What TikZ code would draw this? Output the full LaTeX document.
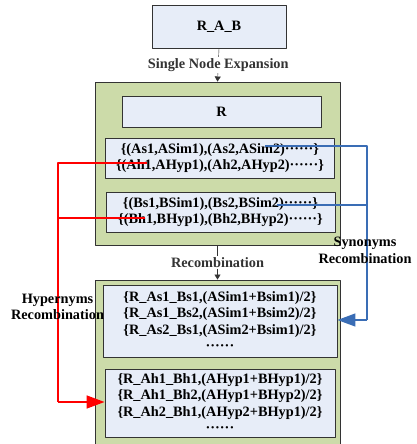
\documentclass[tikz,border=0pt]{standalone}
\usepackage{fontspec}
\setmainfont{Liberation Serif}
\usetikzlibrary{arrows.meta,calc}
\definecolor{boxblue}{HTML}{E7EDF8}
\definecolor{boxgreen}{HTML}{CCDBA9}
\definecolor{synblue}{HTML}{3A6DB5}
\tikzset{
	inbox/.style={draw=black!80, fill=boxblue, line width=0.9pt, align=center, inner sep=0pt},
	outbox/.style={draw=black!80, fill=boxgreen, line width=0.9pt, inner sep=0pt},
	steplabel/.style={fill=white, inner sep=1pt},
	bigtip/.style={-{Triangle[length=18pt,width=13pt]}},
}
\begin{document}
\begin{tikzpicture}[x=1pt,y=-1pt,line join=round,>={Triangle[length=5pt,width=6pt]},
		font=\fontsize{14.3}{16.5}\selectfont\bfseries]
	\useasboundingbox (0,0) rectangle (417,444);
	\fill[white] (0,0) rectangle (417,444);
	% outer green boxes
	\node[outbox, minimum width=245, minimum height=163] (G1) at (217.5,163.5) {};
	\node[outbox, minimum width=245, minimum height=166] (G2) at (217.5,363) {};
	% inner boxes
	\node[inbox, minimum width=134, minimum height=43] (RAB) at (219,26.5) {R\_A\_B};
	\node[inbox, minimum width=199, minimum height=31] (R) at (221.5,111.5) {R};
	\node[inbox, minimum width=229, minimum height=40] (A) at (220,158)
		{\{(As1,ASim1),(As2,ASim2)······\}\\\{(Ah1,AHyp1),(Ah2,AHyp2)······\}};
	\node[inbox, minimum width=229, minimum height=40] (B) at (220.5,212)
		{\{(Bs1,BSim1),(Bs2,BSim2)······\}\\\{(Bh1,BHyp1),(Bh2,BHyp2)······\}};
	\node[inbox, minimum width=234, minimum height=72] (C) at (220,321)
		{\{R\_As1\_Bs1,(ASim1+Bsim1)/2\}\\\{R\_As1\_Bs2,(ASim1+Bsim2)/2\}\\
		 \{R\_As2\_Bs1,(ASim2+Bsim1)/2\}\\······};
	\node[inbox, minimum width=230, minimum height=68] (D) at (220,403)
		{\{R\_Ah1\_Bh1,(AHyp1+BHyp1)/2\}\\\{R\_Ah1\_Bh2,(AHyp1+BHyp2)/2\}\\
		 \{R\_Ah2\_Bh1,(AHyp2+BHyp1)/2\}\\······};
	% steps
	\draw[black!80, ->] (RAB.south) -- node[steplabel]{Single Node Expansion} (G1.north);
	\draw[black!80, ->] (G1.south) -- node[steplabel]{Recombination} (G2.north);
	% synonyms
	\path (265,146) coordinate (as) (277,205) coordinate (bs) (367,146) coordinate (s1)
		(367,205) coordinate (s2) (367,320) coordinate (s3);
	\draw[synblue, line width=1.3pt] (bs)--(s2) (as)--(s1)--(s3);
	\draw[synblue, line width=1.3pt, bigtip] (s3) -- (s3-|C.east);
	\node[align=center, inner sep=0pt] (syn) at (365,250.5) {Synonyms\\Recombination};
	% hypernyms
	\path (147,163) coordinate (ah) (145,218) coordinate (bh) (58,163) coordinate (h1)
		(58,218) coordinate (h2) (58,402) coordinate (h3);
	\draw[red, line width=1.5pt] (bh)--(h2) (ah)--(h1)--(h3);
	\draw[red, line width=1.5pt, bigtip] (h3) -- (h3-|D.west);
	\node[align=center, inner sep=0pt] (hyp) at (57.5,307) {Hypernyms\\Recombination};
\end{tikzpicture}
\end{document}
